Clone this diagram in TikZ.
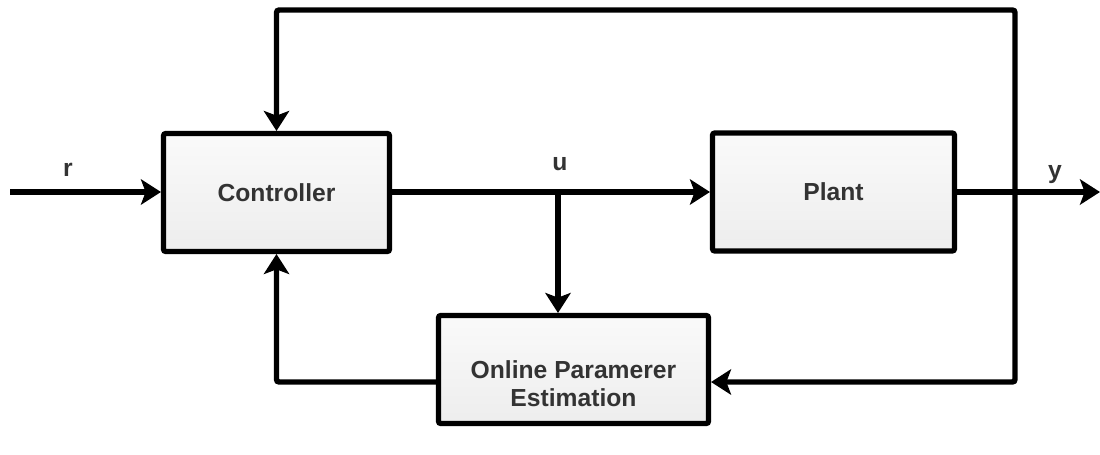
\documentclass[tikz,border=0pt]{standalone}
\usepackage{fontspec}
\setmainfont{Liberation Sans}
\usetikzlibrary{arrows.meta}
\begin{document}
\begin{tikzpicture}[x=0.75pt,y=-0.75pt,
  blockbox/.style={draw=black, line width=3.8pt, rounded corners=1.5pt,
    top color=white!98!black, bottom color=white!93!black,
    inner sep=0pt, font=\bfseries\fontsize{18.5}{21}\selectfont, text=black!80, align=center},
  conn/.style={line width=4.1pt, -{Stealth[length=15pt,width=19pt,inset=3.5pt]}},
  lbl/.style={font=\bfseries\fontsize{18.5}{21}\selectfont, text=black!80, inner sep=0pt}]
\useasboundingbox (0,0) rectangle (1100,454);

\node[blockbox, minimum width=169.5pt, minimum height=88.5pt] (ctrl) at (276.5,192.5) {Controller};
\node[blockbox, minimum width=181.5pt, minimum height=88.5pt] (plant) at (833.5,192) {Plant};
\node[blockbox, minimum width=202.5pt, minimum height=81pt] (est) at (573.5,369.5) {};
\node[lbl, align=center, font=\bfseries\fontsize{18.5}{21}\selectfont] (estlbl) at (573.5,384) {Online Paramerer\\Estimation};

\coordinate (rin) at (10,192);
\coordinate (yout) at (1100,192);
\coordinate (junc) at (558,192);
\coordinate (ytap) at (1015,192);
\coordinate (topr) at (1015,10);
\coordinate (fb) at (0,382);

\draw[conn] (rin) -- (ctrl.west |- rin);
\draw[conn] (ctrl.east |- junc) -- (plant.west |- junc);
\draw[conn] (junc) -- (est.north -| junc);
\draw[conn] (plant.east |- yout) -- (yout);
\draw[conn, rounded corners=2pt] (ytap) -- (topr) -| (ctrl.north);
\draw[conn, rounded corners=2pt] (ytap) |- (est.east |- fb);
\draw[conn, rounded corners=2pt] (est.west |- fb) -| (ctrl.south);

\node[lbl] (rlbl) at (68,170) {r};
\node[lbl] (ulbl) at (560,164) {u};
\node[lbl] (ylbl) at (1055,175) {y};
\end{tikzpicture}
\end{document}
